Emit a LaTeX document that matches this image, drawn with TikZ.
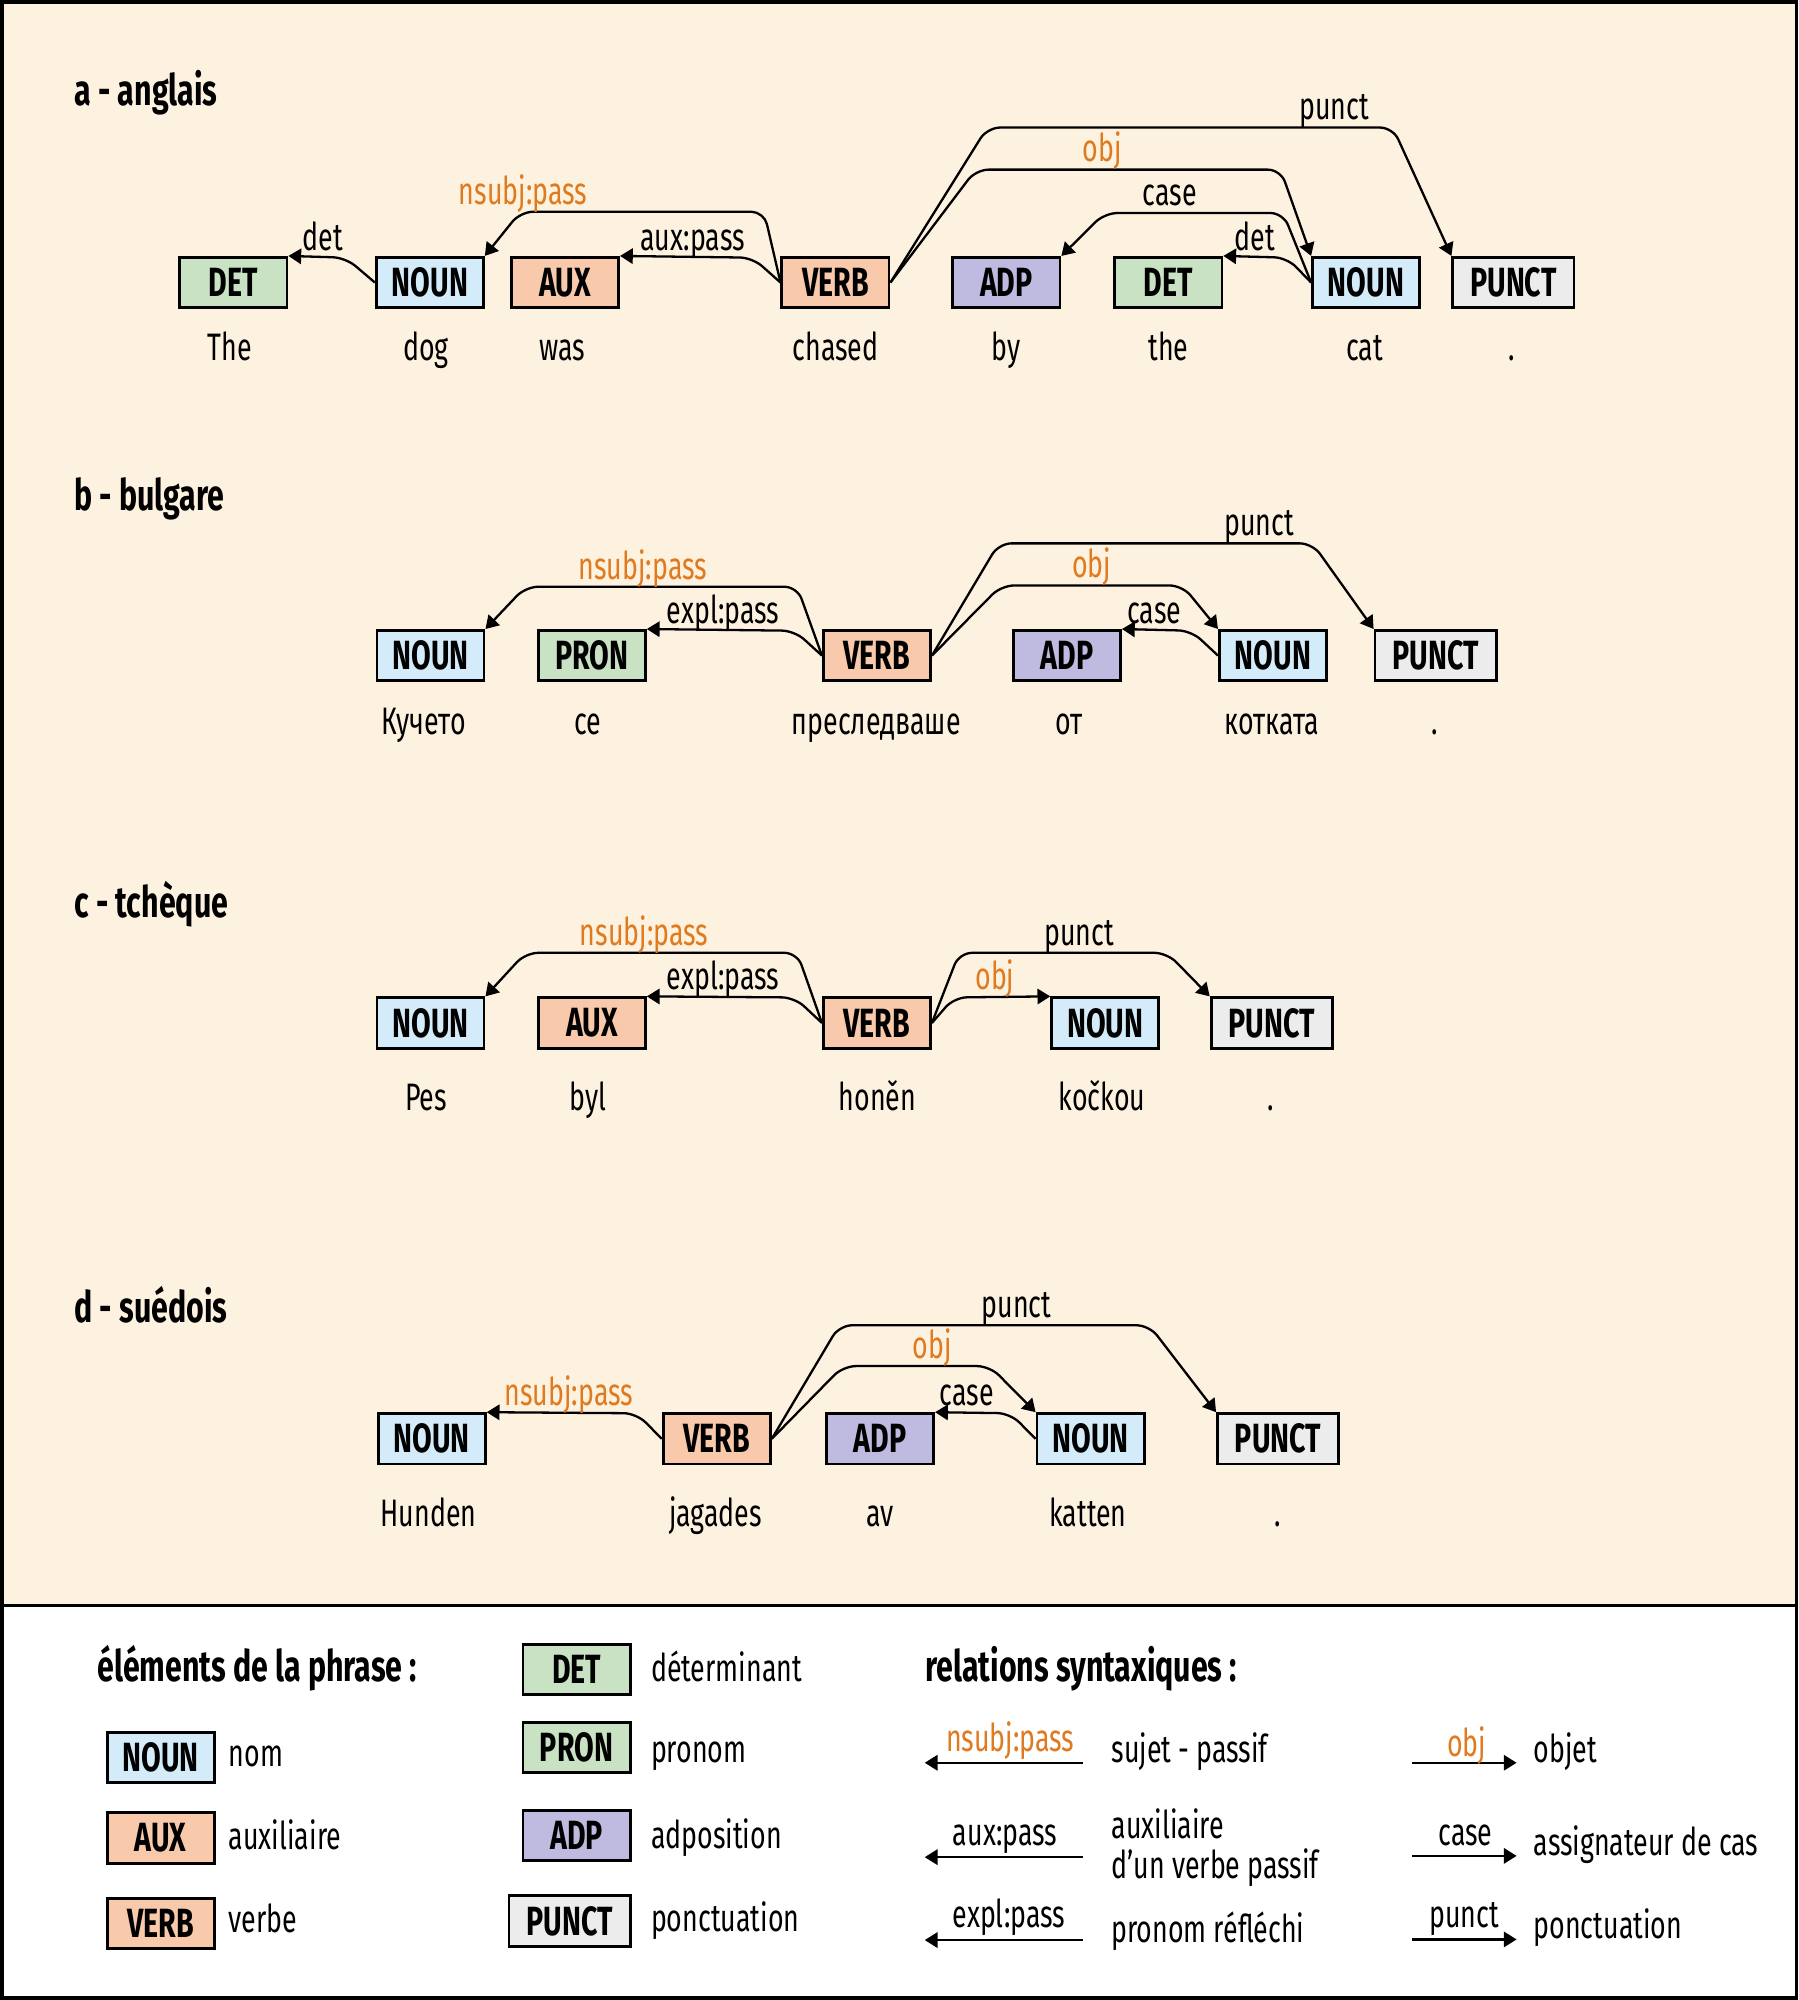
\documentclass[tikz,border=0pt]{standalone}
\usepackage{fontspec}
\setmainfont{Fira Sans}[FakeStretch=0.7]
\usetikzlibrary{arrows.meta}
\definecolor{cream}{HTML}{FDF1DF}
\definecolor{nounc}{HTML}{D4ECF9}
\definecolor{auxc}{HTML}{F8C9AA}
\definecolor{detc}{HTML}{C9E2C4}
\definecolor{adpc}{HTML}{BFBADF}
\definecolor{punctc}{HTML}{ECECEC}
\definecolor{orangec}{HTML}{E07A1F}
\begin{document}
\begin{tikzpicture}[x=0.5pt,y=-0.5pt,
  posbox/.style={draw, line width=1.1pt, minimum width=42pt, minimum height=19.75pt, inner sep=0pt,
    font=\bfseries\fontsize{16}{16}\selectfont},
  wbox/.style={posbox, minimum width=47.5pt},
  NN/.style={posbox, fill=nounc},
  AX/.style={posbox, fill=auxc},
  DT/.style={posbox, fill=detc},
  AD/.style={posbox, fill=adpc},
  PU/.style={wbox, fill=punctc},
  word/.style={anchor=base, inner sep=0pt, font=\fontsize{15}{18}\selectfont},
  lab/.style={anchor=base, inner sep=0pt, font=\fontsize{15}{18}\selectfont},
  olab/.style={lab, text=orangec},
  ttl/.style={anchor=base west, inner sep=0pt, font=\bfseries\fontsize{17}{20}\selectfont},
  desc/.style={anchor=base west, inner sep=0pt, font=\fontsize{15}{18}\selectfont},
  arc/.style={line width=0.9pt, rounded corners=5pt, -{Triangle[length=5pt,width=6pt]}},
  plain/.style={line width=0.9pt, -{Triangle[length=5pt,width=6pt]}}
]
\useasboundingbox (0,0) rectangle (1410,1568);
\fill[cream] (0,0) rectangle (1410,1259);
\draw[line width=1.1pt] (0,1259) -- (1410,1259);
\draw[line width=1.4pt] (1.4,1.4) rectangle (1408.6,1566.6);

% ---------- a - anglais ----------
\node[ttl] (ta) at (58,83) {a - anglais};
\node[DT] (a1) at (183,221.5) {DET};
\node[NN] (a2) at (337,221.5) {NOUN};
\node[AX] (a3) at (443,221.5) {AUX};
\node[AX] (a4) at (655,221.5) {VERB};
\node[AD] (a5) at (789,221.5) {ADP};
\node[DT] (a6) at (916,221.5) {DET};
\node[NN] (a7) at (1071,221.5) {NOUN};
\node[PU] (a8) at (1186.5,221.5) {PUNCT};
\node[word] (wa1) at (180,283) {The};
\node[word] (wa2) at (334,283) {dog};
\node[word] (wa3) at (441,283) {was};
\node[word] (wa4) at (655,283) {chased};
\node[word] (wa5) at (789,283) {by};
\node[word] (wa6) at (916,283) {the};
\node[word] (wa7) at (1070,283) {cat};
\node[word] (wa8) at (1185,283) {.};
\draw[arc] (a2.west) -- (271,202) -- (a1.north east);
\node[lab] (la1) at (253,196) {det};
\draw[arc] (a4.west) -- (590,202) -- (a3.north east);
\node[lab] (la2) at (543,196) {aux:pass};
\draw[arc] (a4.west) -- (599,166) -- (408,166) -- (a2.north east);
\node[olab] (la3) at (410,160) {nsubj:pass};
\draw[arc] (a4.east) -- (774,100) -- (1092,100) -- (a8.north west);
\node[lab] (la4) at (1046,94) {punct};
\draw[arc] (a4.east) -- (765,133) -- (1004,133) -- (a7.north west);
\node[olab] (la5) at (864,127) {obj};
\draw[arc] (a7.west) -- (1006,167) -- (866,167) -- (a5.north east);
\node[lab] (la6) at (917,161) {case};
\draw[arc] (a7.west) -- (1009,202) -- (a6.north east);
\node[lab] (la7) at (984,196) {det};

% ---------- b - bulgare ----------
\node[ttl] (tb) at (58,400) {b - bulgare};
\node[NN] (b1) at (337.5,514) {NOUN};
\node[DT] (b2) at (464,514) {PRON};
\node[AX] (b3) at (687.5,514) {VERB};
\node[AD] (b4) at (836.5,514) {ADP};
\node[NN] (b5) at (998,514) {NOUN};
\node[PU] (b6) at (1125.5,514) {PUNCT};
\node[word] (wb1) at (332,576) {Кучето};
\node[word] (wb2) at (461,576) {се};
\node[word] (wb3) at (687,576) {преследваше};
\node[word] (wb4) at (838,576) {от};
\node[word] (wb5) at (997,576) {котката};
\node[word] (wb6) at (1125,576) {.};
\draw[arc] (b3.west) -- (625,460) -- (412,460) -- (b1.north east);
\node[olab] (lb1) at (504,454) {nsubj:pass};
\draw[arc] (b3.west) -- (623,494.5) -- (b2.north east);
\node[lab] (lb2) at (567,488.5) {expl:pass};
\draw[arc] (b3.east) -- (783,426) -- (1029,426) -- (b6.north west);
\node[lab] (lb3) at (987,420) {punct};
\draw[arc] (b3.east) -- (785,459) -- (927,459) -- (b5.north west);
\node[olab] (lb4) at (856,453) {obj};
\draw[arc] (b5.west) -- (934,494.5) -- (b4.north east);
\node[lab] (lb5) at (905,488.5) {case};

% ---------- c - tchèque ----------
\node[ttl] (tc) at (58,719) {c - tchèque};
\node[NN] (c1) at (337.5,802) {NOUN};
\node[AX] (c2) at (464,802) {AUX};
\node[AX] (c3) at (687.5,802) {VERB};
\node[NN] (c4) at (866.5,802) {NOUN};
\node[PU] (c5) at (997,802) {PUNCT};
\node[word] (wc1) at (334,871) {Pes};
\node[word] (wc2) at (461,871) {byl};
\node[word] (wc3) at (688,871) {honěn};
\node[word] (wc4) at (864,871) {kočkou};
\node[word] (wc5) at (996,871) {.};
\draw[arc] (c3.west) -- (625,747) -- (412,747) -- (c1.north east);
\node[olab] (lc1) at (505,741) {nsubj:pass};
\draw[arc] (c3.west) -- (623,782) -- (c2.north east);
\node[lab] (lc2) at (567,776) {expl:pass};
\draw[arc] (c3.east) -- (752,747) -- (915,747) -- (c5.north west);
\node[lab] (lc3) at (846,741) {punct};
\draw[arc] (c3.east) -- (748,782) -- (c4.north west);
\node[olab] (lc4) at (780,776) {obj};

% ---------- d - suédois ----------
\node[ttl] (td) at (58,1037) {d - suédois};
\node[NN] (d1) at (338.5,1128) {NOUN};
\node[AX] (d2) at (562,1128) {VERB};
\node[AD] (d3) at (690,1128) {ADP};
\node[NN] (d4) at (855,1128) {NOUN};
\node[PU] (d5) at (1002,1128) {PUNCT};
\node[word] (wd1) at (336,1197) {Hunden};
\node[word] (wd2) at (561,1197) {jagades};
\node[word] (wd3) at (690,1197) {av};
\node[word] (wd4) at (853,1197) {katten};
\node[word] (wd5) at (1002,1197) {.};
\draw[arc] (d2.west) -- (499,1108) -- (d1.north east);
\node[olab] (ld1) at (446,1102) {nsubj:pass};
\draw[arc] (d2.east) -- (658,1039) -- (901,1039) -- (d5.north west);
\node[lab] (ld2) at (797,1033) {punct};
\draw[arc] (d2.east) -- (661,1071) -- (776,1071) -- (d4.north west);
\node[olab] (ld3) at (731,1065) {obj};
\draw[arc] (d4.west) -- (792,1108) -- (d3.north east);
\node[lab] (ld4) at (758,1102) {case};

% ---------- legend ----------
\node[ttl] (h1) at (76,1318) {éléments de la phrase :};
\node[NN] (lnoun) at (126,1378) {NOUN};
\node[AX] (laux) at (126,1441) {AUX};
\node[AX] (lverb) at (126,1508) {VERB};
\node[desc] (dnoun) at (179,1385) {nom};
\node[desc] (daux) at (179,1450) {auxiliaire};
\node[desc] (dverb) at (179,1515) {verbe};

\node[DT] (ldet) at (452,1309) {DET};
\node[DT] (lpron) at (452,1370) {PRON};
\node[AD] (ladp) at (452,1439) {ADP};
\node[PU] (lpunct) at (446.5,1506) {PUNCT};
\node[desc] (ddet) at (510,1318) {déterminant};
\node[desc] (dpron) at (510,1382) {pronom};
\node[desc] (dadp) at (510,1449) {adposition};
\node[desc] (dpunct) at (510,1514) {ponctuation};

\node[ttl] (h2) at (725,1318) {relations syntaxiques :};
\coordinate (r1a) at (849,1382); \coordinate (r1b) at (725,1382);
\coordinate (r2a) at (849,1456); \coordinate (r2b) at (725,1456);
\coordinate (r3a) at (849,1521); \coordinate (r3b) at (725,1521);
\draw[plain] (r1a) -- (r1b);
\draw[plain] (r2a) -- (r2b);
\draw[plain] (r3a) -- (r3b);
\node[olab] (lr1) at (792,1373) {nsubj:pass};
\node[lab] (lr2) at (788,1447) {aux:pass};
\node[lab] (lr3) at (791,1511) {expl:pass};
\node[desc] (dr1) at (871,1382) {sujet - passif};
\node[desc] (dr2a) at (871,1441) {auxiliaire};
\node[desc] (dr2b) at (871,1473) {d’un verbe passif};
\node[desc] (dr3) at (871,1523) {pronom réfléchi};

\coordinate (s1a) at (1107,1382); \coordinate (s1b) at (1189,1382);
\coordinate (s2a) at (1107,1455); \coordinate (s2b) at (1189,1455);
\coordinate (s3a) at (1107,1520.5); \coordinate (s3b) at (1189,1520.5);
\draw[plain] (s1a) -- (s1b);
\draw[plain] (s2a) -- (s2b);
\draw[plain] (s3a) -- (s3b);
\node[olab] (ls1) at (1150,1377) {obj};
\node[lab] (ls2) at (1149,1447) {case};
\node[lab] (ls3) at (1148,1511) {punct};
\node[desc] (ds1) at (1202,1382) {objet};
\node[desc] (ds2) at (1202,1455) {assignateur de cas};
\node[desc] (ds3) at (1202,1520) {ponctuation};
\end{tikzpicture}
\end{document}
